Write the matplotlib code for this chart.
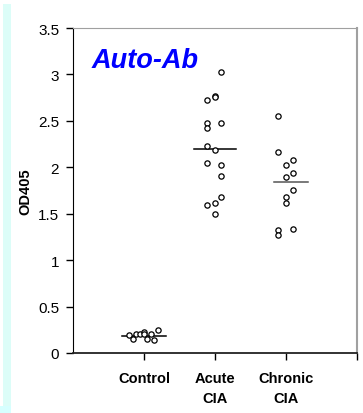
import matplotlib
matplotlib.use("Agg")
import matplotlib.pyplot as plt
from matplotlib.patches import Rectangle

plt.rcParams['font.family'] = ['Liberation Sans', 'DejaVu Sans']

categories = ["Control", "Acute\nCIA", "Chronic\nCIA"]
control = [0.19, 0.15, 0.21, 0.20, 0.23, 0.20, 0.15, 0.21, 0.14, 0.25]
acute = [3.03, 2.72, 2.77, 2.76, 2.48, 2.42, 2.48, 2.23, 2.19, 2.05, 2.03,
         1.91, 1.68, 1.62, 1.59, 1.50]
chronic = [2.55, 2.16, 2.02, 2.08, 1.90, 1.94, 1.76, 1.68, 1.62, 1.33, 1.27, 1.34]
means = [0.18, 2.20, 1.84]
y_ticks = [0, 0.5, 1, 1.5, 2, 2.5, 3, 3.5]
y_tick_labels = ["0", "0.5", "1", "1.5", "2", "2.5", "3", "3.5"]

# horizontal jitter offsets (layout only)
control_dx = [-0.21, -0.16, -0.11, -0.06, 0.0, 0.0, 0.04, 0.10, 0.14, 0.20]
acute_dx = [0.09, -0.11, 0.0, 0.0, -0.11, -0.11, 0.09, -0.11, 0.0, -0.11, 0.09,
            0.09, 0.09, 0.0, -0.11, 0.0]
chronic_dx = [-0.11, -0.11, 0.0, 0.10, 0.0, 0.10, 0.10, 0.0, 0.0, -0.11, -0.11, 0.10]
mean_half = [0.31, 0.30, 0.24]
mean_center = [1.0, 2.0, 3.07]
mean_colors = ["black", "black", "#555555"]

fig = plt.figure(figsize=(3.63, 4.14), dpi=100)
fig.patch.set_facecolor("white")

W, H = 363, 414
fig.patches.append(Rectangle((3 / W, 1 - 407 / H), 8 / W, 402 / H,
                             transform=fig.transFigure, facecolor="#dcfdf8",
                             edgecolor="none", zorder=0))
fig.patches.append(Rectangle((0, 0), 11 / W, 7 / H,
                             transform=fig.transFigure, facecolor="#d6ffff",
                             edgecolor="none", zorder=0))

ax = fig.add_axes([73 / W, 1 - 354 / H, (357 - 73) / W, (354 - 29) / H])

groups = [control, acute, chronic]
offsets = [control_dx, acute_dx, chronic_dx]
for i, (vals, dx) in enumerate(zip(groups, offsets)):
    xs = [i + 1 + d for d in dx]
    ax.plot(xs, vals, linestyle="none", marker="o", markersize=3.8,
            markerfacecolor="white", markeredgecolor="black",
            markeredgewidth=0.9, zorder=3)
    ax.plot([mean_center[i] - mean_half[i], mean_center[i] + mean_half[i]],
            [means[i], means[i]], color=mean_colors[i], linewidth=1.1, zorder=2)

ax.set_xlim(0, 4)
ax.set_ylim(0, 3.5)
ax.set_yticks(y_ticks)
ax.set_yticklabels(y_tick_labels, fontsize=11)
ax.set_xticks([1, 2, 3, 4])
ax.set_xticklabels(categories + [""], fontsize=10.5, fontweight="bold")
ax.tick_params(axis="y", direction="out", length=5, width=1, pad=5)
ax.tick_params(axis="x", direction="out", length=5, width=1, pad=8)
for t in ax.get_xticklabels():
    t.set_linespacing(1.5)

ax.spines["left"].set_color("black")
ax.spines["bottom"].set_color("#222222")
ax.spines["bottom"].set_linewidth(1.3)
ax.spines["top"].set_color("#a0a0a0")
ax.spines["right"].set_color("#a0a0a0")
ax.spines["right"].set_linewidth(1.5)

ax.set_ylabel("OD405", fontsize=10.5, fontweight="bold", labelpad=4)

ax.text(0.26, 3.15, "Auto-Ab", color="#0000ff", fontsize=19.5,
        fontweight="bold", fontstyle="italic", ha="left", va="center")

fig.savefig("out.png", dpi=100, facecolor="white")
